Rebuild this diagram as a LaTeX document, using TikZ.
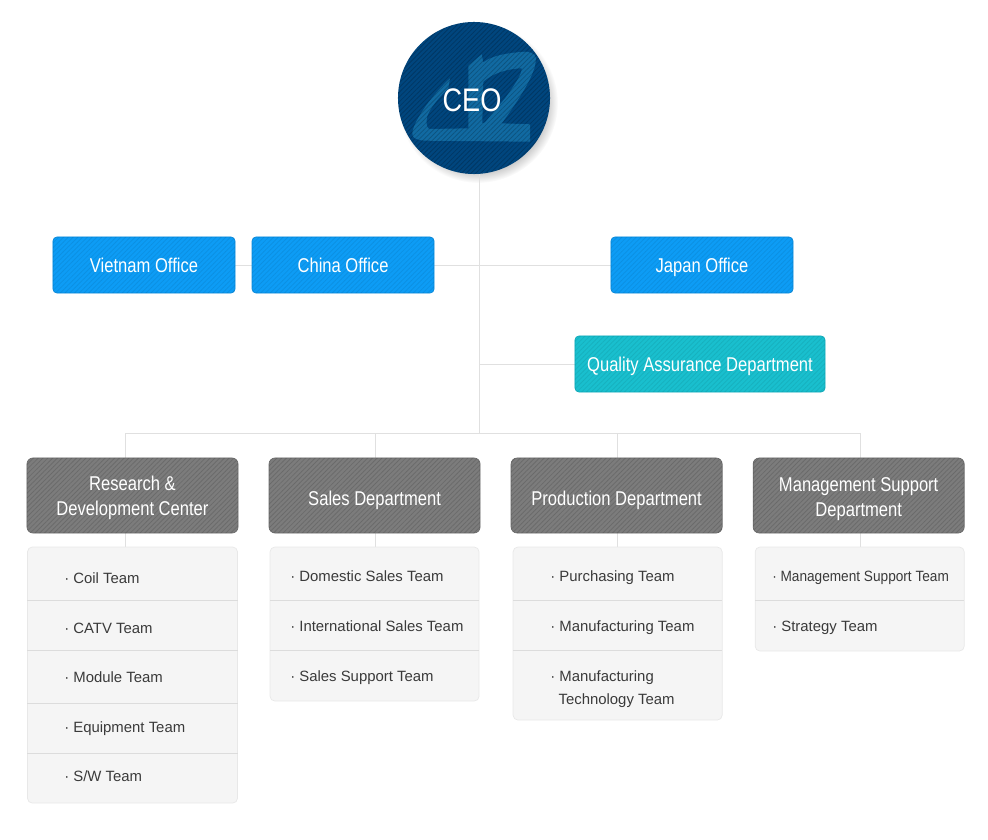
\documentclass[tikz,border=0pt]{standalone}
\usepackage{fontspec}
\setmainfont{Liberation Sans}
\newfontfamily\headfont[FakeStretch=0.83]{Liberation Sans}
\newfontfamily\tightfont[FakeStretch=0.915]{Liberation Sans}
\usepackage{tikz}
\usetikzlibrary{positioning,patterns.meta,backgrounds}
\usepackage{xcolor}
\definecolor{ceoNavy}{HTML}{00467E}
\definecolor{ceoLogo}{HTML}{116AA2}
\definecolor{officeBlue}{HTML}{0D9CF5}
\definecolor{officeEdge}{HTML}{0A88D8}
\definecolor{qaTeal}{HTML}{19BFCE}
\definecolor{qaEdge}{HTML}{10A9B8}
\definecolor{deptGrey}{HTML}{7C7C7C}
\definecolor{deptEdge}{HTML}{6A6A6A}
\definecolor{panelFill}{HTML}{F5F5F5}
\definecolor{panelEdge}{HTML}{E8E8E8}
\definecolor{rowLine}{HTML}{DCDCDC}
\definecolor{linkGrey}{HTML}{E0E0E0}
\definecolor{teamInk}{HTML}{3A3A3A}
\pgfdeclareradialshading{ceoshadow}{\pgfpoint{0bp}{0bp}}{color(0bp)=(black!30); color(20bp)=(black!30); color(25bp)=(white); color(50bp)=(white)}

\begin{document}
\begin{tikzpicture}[
  x=0.025cm,y=-0.025cm,
  stripes/.style={postaction={pattern={Lines[angle=45,distance=2.4pt,line width=.6pt]},pattern color=black,opacity=#1}},
  ceobox/.style={circle,fill=ceoNavy,minimum size=3.8cm,inner sep=0pt,outer sep=0pt},
  ceotext/.style={inner sep=0pt,text=white,font=\headfont\fontsize{23.2}{26}\selectfont},
  headbox/.style={draw,line width=.5pt,rounded corners=.1cm,inner sep=0pt,outer sep=0pt,text=white,align=center,
    font=\headfont\fontsize{14.2}{17.6}\selectfont},
  officebox/.style={headbox,draw=officeEdge,fill=officeBlue,minimum width=4.55cm,minimum height=1.4cm,
    text height=10pt,text depth=0pt,stripes=.07},
  qabox/.style={headbox,draw=qaEdge,fill=qaTeal,minimum width=6.25cm,minimum height=1.4cm,
    text height=10pt,text depth=0pt,stripes=.07},
  deptbox/.style={headbox,rounded corners=.15cm,draw=deptEdge,fill=deptGrey,minimum width=5.275cm,minimum height=1.875cm,stripes=.13},
  oneline/.style={text height=13.8pt,text depth=0pt},
  twolines/.style={text height=27.8pt,text depth=0pt},
  teampanel/.style={draw=panelEdge,fill=panelFill,line width=.5pt,rounded corners=.12cm,inner sep=0pt,outer sep=0pt,minimum width=5.225cm},
  teamtext/.style={anchor=base west,inner sep=0pt,align=left,text=teamInk,font=\fontsize{10.6}{16.3}\selectfont},
  rowrule/.style={rowLine,line width=.5pt},
  linkline/.style={linkGrey,line width=.7pt}]
  \useasboundingbox (0,0) rectangle (988,840);
  \node[ceobox] (ceo) at (474,98) {};
  \fill[ceoLogo,even odd rule,shift={(ceo.center)}]
    (-5.7,-32.3) -- (7.7,-43.7) -- (9.3,-35.7) .. controls (18,-42) and (31,-45) .. (51,-46.3)
    .. controls (60,-46) and (63,-42) .. (61.7,-36.3) .. controls (61,-26) and (50,-5) .. (27.7,25.3)
    -- (56,26.3) -- (56,43.7) -- (-49,42.7) .. controls (-58,42) and (-62,40) .. (-61.7,35.3)
    .. controls (-61,25) and (-45,0) .. (-24,-19.7) -- (-25.7,-9.7)
    .. controls (-38,2) and (-48,16) .. (-47.3,22) .. controls (-48,28) and (-46,31) .. (-44,31)
    -- (-5.7,30.3) -- cycle
    (9.3,-16.3) .. controls (18,-24) and (31,-29) .. (47.7,-29.7) .. controls (48,-24) and (40,-12) .. (31,0.3)
    -- (11,24.3) -- (8.3,25.3) -- cycle;
  \path[stripes=.2] (ceo.center) circle (76);
  \node[ceotext] (ceolabel) at (472,100) {CEO};

  \node[officebox] (vietnam) at (144,265) {Vietnam Office};
  \node[officebox,right=.425cm of vietnam] (china) {China Office};
  \node[officebox] (japan) at (702,265) {Japan Office};
  \node[qabox] (quality) at (700,364) {Quality Assurance Department};

  \node[deptbox,twolines] (research) at (132.5,495.5) {Research \&\\Development Center};
  \node[deptbox,oneline,right=.775cm of research] (sales) {Sales Department};
  \node[deptbox,oneline,right=.775cm of sales] (production) {Production Department};
  \node[deptbox,twolines,text height=29.2pt,right=.775cm of production] (management) {Management Support\\Department};

  \node[teampanel,minimum width=5.25cm,minimum height=6.4cm,below=.35cm of research] (researchteams) {};
  \node[teampanel,minimum height=3.85cm,below=.35cm of sales] (salesteams) {};
  \node[teampanel,minimum height=4.325cm,xshift=.025cm,below=.35cm of production] (productionteams) {};
  \node[teampanel,minimum height=2.6cm,xshift=.025cm,below=.35cm of management] (managementteams) {};

  \node[teamtext] (coil) at (64,583) {· Coil Team};
  \node[teamtext] (catv) at (64,633) {· CATV Team};
  \node[teamtext] (module) at (64,682) {· Module Team};
  \node[teamtext] (equipment) at (64,732) {· Equipment Team};
  \node[teamtext] (software) at (64,781) {· S/W Team};
  \node[teamtext] (domestic) at (290,581) {· Domestic Sales Team};
  \node[teamtext] (international) at (290,631) {· International Sales Team};
  \node[teamtext] (support) at (290,681) {· Sales Support Team};
  \node[teamtext] (purchasing) at (550,581) {· Purchasing Team};
  \node[teamtext] (manufacturing) at (550,631) {· Manufacturing Team};
  \node[teamtext] (mantech) at (550,704) {· Manufacturing\\\ \ Technology Team};
  \node[teamtext,font=\tightfont\fontsize{10.6}{16.3}\selectfont] (mgmtsupport) at (772,581) {· Management Support Team};
  \node[teamtext] (strategy) at (772,631) {· Strategy Team};

  % rows inside the panels
  \draw[rowrule] (researchteams.west |- 0,600) -- (researchteams.east |- 0,600);
  \draw[rowrule] (researchteams.west |- 0,650) -- (researchteams.east |- 0,650);
  \draw[rowrule] (researchteams.west |- 0,703) -- (researchteams.east |- 0,703);
  \draw[rowrule] (researchteams.west |- 0,753) -- (researchteams.east |- 0,753);
  \draw[rowrule] (salesteams.west |- 0,600) -- (salesteams.east |- 0,600);
  \draw[rowrule] (salesteams.west |- 0,650) -- (salesteams.east |- 0,650);
  \draw[rowrule] (productionteams.west |- 0,600) -- (productionteams.east |- 0,600);
  \draw[rowrule] (productionteams.west |- 0,650) -- (productionteams.east |- 0,650);
  \draw[rowrule] (managementteams.west |- 0,600) -- (managementteams.east |- 0,600);

  \begin{scope}[on background layer]
    \shade[shading=ceoshadow] (478,103) circle (80);
    \coordinate (trunktop) at (479,174);
    \coordinate (trunkend) at (479,433);
    \coordinate (researchdrop) at (125,433);
    \coordinate (salesdrop) at (375,433);
    \coordinate (productiondrop) at (617,433);
    \coordinate (managementdrop) at (860,433);
    \draw[linkline] (trunktop) -- (trunkend);
    \draw[linkline] (vietnam) -- (japan);
    \draw[linkline] (quality.west) -- (quality.west -| trunkend);
    \draw[linkline] (researchdrop) -- (managementdrop);
    \draw[linkline] (researchdrop) -- (researchteams.north -| researchdrop);
    \draw[linkline] (salesdrop) -- (salesteams.north -| salesdrop);
    \draw[linkline] (productiondrop) -- (productionteams.north -| productiondrop);
    \draw[linkline] (managementdrop) -- (managementteams.north -| managementdrop);
  \end{scope}
\end{tikzpicture}
\end{document}
